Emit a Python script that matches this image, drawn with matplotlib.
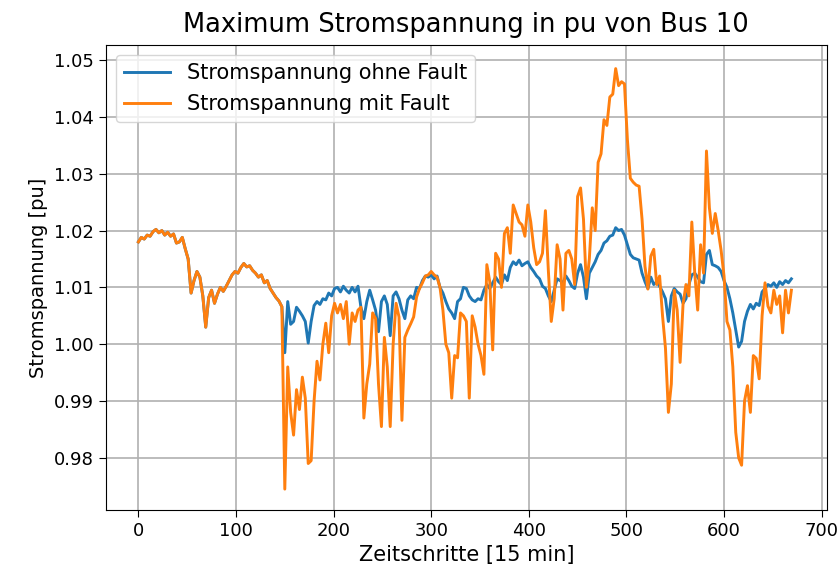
import numpy as np
import matplotlib
matplotlib.use("Agg")
import matplotlib.pyplot as plt

# values read every 3 time steps (15 min each)
step = 3

# both runs are identical until the fault at step ~148
shared_start = [
    1.0180, 1.0188, 1.0185, 1.0192, 1.0190, 1.0198, 1.0202, 1.0196, 1.0200,
    1.0192, 1.0197, 1.0190, 1.0194, 1.0178, 1.0180, 1.0188, 1.0168,
    1.0150, 1.0090, 1.0112, 1.0128, 1.0118, 1.0085, 1.0030, 1.0082, 1.0095,
    1.0072, 1.0088, 1.0100, 1.0093, 1.0102, 1.0112, 1.0122, 1.0128, 1.0125,
    1.0135, 1.0142, 1.0136, 1.0138, 1.0130, 1.0125, 1.0118, 1.0122, 1.0108,
    1.0112, 1.0098, 1.0090, 1.0082, 1.0076, 1.0066,
]

ohne_fault_rest = [
    0.9985, 1.0075, 1.0035, 1.0040, 1.0065, 1.0058, 1.0050, 1.0040, 1.0002,
    1.0040, 1.0068, 1.0075, 1.0070, 1.0080, 1.0078, 1.0090, 1.0085, 1.0098,
    1.0100, 1.0092, 1.0102, 1.0095, 1.0090, 1.0100, 1.0092, 1.0102, 1.0065,
    1.0045, 1.0075, 1.0095, 1.0078, 1.0060, 1.0022, 1.0075, 1.0085, 1.0070,
    1.0015, 1.0085, 1.0092, 1.0080, 1.0060, 1.0045, 1.0078, 1.0085, 1.0080,
    1.0100, 1.0098, 1.0112, 1.0120, 1.0118, 1.0122, 1.0115, 1.0120, 1.0100,
    1.0090, 1.0075, 1.0062, 1.0055, 1.0045, 1.0075, 1.0080, 1.0100, 1.0098,
    1.0085, 1.0078, 1.0075, 1.0080, 1.0078, 1.0095, 1.0105, 1.0098, 1.0108,
    1.0118, 1.0110, 1.0105, 1.0122, 1.0112, 1.0135, 1.0145, 1.0140, 1.0148,
    1.0138, 1.0142, 1.0145, 1.0135, 1.0128, 1.0120, 1.0115, 1.0102, 1.0098,
    1.0085, 1.0075, 1.0095, 1.0115, 1.0112, 1.0108, 1.0120, 1.0112, 1.0102,
    1.0098, 1.0125, 1.0140, 1.0118, 1.0080, 1.0125, 1.0135, 1.0145, 1.0158,
    1.0165, 1.0178, 1.0182, 1.0190, 1.0192, 1.0205, 1.0200, 1.0202, 1.0192,
    1.0175, 1.0158, 1.0152, 1.0150, 1.0148, 1.0125, 1.0110, 1.0098, 1.0118,
    1.0105, 1.0110, 1.0102, 1.0092, 1.0080, 1.0040, 1.0085, 1.0098, 1.0092,
    1.0088, 1.0072, 1.0080, 1.0105, 1.0122, 1.0125, 1.0118, 1.0110, 1.0108,
    1.0158, 1.0165, 1.0140, 1.0138, 1.0135, 1.0128, 1.0112, 1.0100, 1.0080,
    1.0055, 1.0025, 0.9995, 1.0005, 1.0040, 1.0058, 1.0070, 1.0062, 1.0072,
    1.0068, 1.0092, 1.0098, 1.0105, 1.0102, 1.0108, 1.0100, 1.0110, 1.0105,
    1.0112, 1.0108, 1.0115,
]

mit_fault_rest = [
    0.9745, 0.9960, 0.9880, 0.9840, 0.9920, 0.9885, 0.9942, 0.9905, 0.9790,
    0.9795, 0.9900, 0.9970, 0.9937, 1.0000, 1.0037, 0.9985, 1.0050, 1.0072,
    1.0055, 1.0070, 1.0045, 1.0075, 1.0000, 1.0055, 1.0040, 1.0060, 1.0065,
    0.9870, 0.9930, 0.9965, 1.0055, 1.0045, 0.9930, 0.9855, 1.0012, 0.9960,
    0.9855, 1.0000, 1.0072, 1.0048, 0.9866, 1.0012, 1.0025, 1.0036, 1.0048,
    1.0083, 1.0098, 1.0108, 1.0120, 1.0122, 1.0128, 1.0122, 1.0118, 1.0100,
    1.0060, 1.0000, 0.9985, 0.9905, 0.9980, 0.9976, 1.0055, 1.0050, 1.0040,
    0.9905, 1.0050, 1.0030, 1.0000, 0.9980, 0.9947, 1.0140, 1.0110, 0.9990,
    1.0160, 1.0150, 1.0100, 1.0195, 1.0205, 1.0160, 1.0245, 1.0230, 1.0215,
    1.0210, 1.0190, 1.0245, 1.0215, 1.0170, 1.0140, 1.0145, 1.0160, 1.0235,
    1.0130, 1.0040, 1.0080, 1.0175, 1.0150, 1.0060, 1.0160, 1.0165, 1.0150,
    1.0105, 1.0260, 1.0275, 1.0220, 1.0100, 1.0150, 1.0240, 1.0200, 1.0320,
    1.0335, 1.0395, 1.0385, 1.0435, 1.0440, 1.0485, 1.0455, 1.0462, 1.0458,
    1.0360, 1.0292, 1.0285, 1.0280, 1.0278, 1.0220, 1.0137, 1.0097, 1.0155,
    1.0167, 1.0105, 1.0120, 1.0050, 0.9993, 0.9880, 0.9930, 1.0095, 1.0060,
    0.9968, 1.0070, 1.0105, 1.0085, 1.0215, 1.0125, 1.0060, 1.0175, 1.0125,
    1.0340, 1.0240, 1.0195, 1.0230, 1.0200, 1.0165, 1.0120, 1.0040, 1.0025,
    0.9960, 0.9845, 0.9800, 0.9787, 0.9900, 0.9927, 0.9880, 0.9980, 0.9975,
    0.9939, 1.0050, 1.0108, 1.0067, 1.0055, 1.0095, 1.0070, 1.0085, 1.0020,
    1.0095, 1.0055, 1.0095,
]

ohne_fault = np.array(shared_start + ohne_fault_rest)
mit_fault = np.array(shared_start + mit_fault_rest)
t_ohne = np.arange(len(ohne_fault)) * step
t_mit = np.arange(len(mit_fault)) * step

fig = plt.figure(figsize=(8.38, 5.81), dpi=100)
ax = fig.add_axes([0.126, 0.122, 0.861, 0.801])

ax.plot(t_ohne, ohne_fault, color="#1f77b4", linewidth=2.1,
        label="Stromspannung ohne Fault")
ax.plot(t_mit, mit_fault, color="#ff7f0e", linewidth=2.1,
        label="Stromspannung mit Fault")

ax.set_xlim(-33.6, 705.6)
ax.set_ylim(0.9708, 1.0527)
ax.set_xticks(np.arange(0, 701, 100))
ax.set_yticks([0.98, 0.99, 1.00, 1.01, 1.02, 1.03, 1.04, 1.05])
ax.set_yticklabels(["0.98", "0.99", "1.00", "1.01", "1.02", "1.03", "1.04", "1.05"])
ax.tick_params(labelsize=13, length=5)
ax.grid(True, color="#b0b0b0", linewidth=1.2)

ax.set_title("Maximum Stromspannung in pu von Bus 10", fontsize=18.5, pad=9)
ax.set_xlabel("Zeitschritte [15 min]", fontsize=15)
ax.set_ylabel("Stromspannung [pu]", fontsize=14)
ax.legend(loc="upper left", fontsize=15, handlelength=2.2)

fig.savefig("out.png", dpi=100)
